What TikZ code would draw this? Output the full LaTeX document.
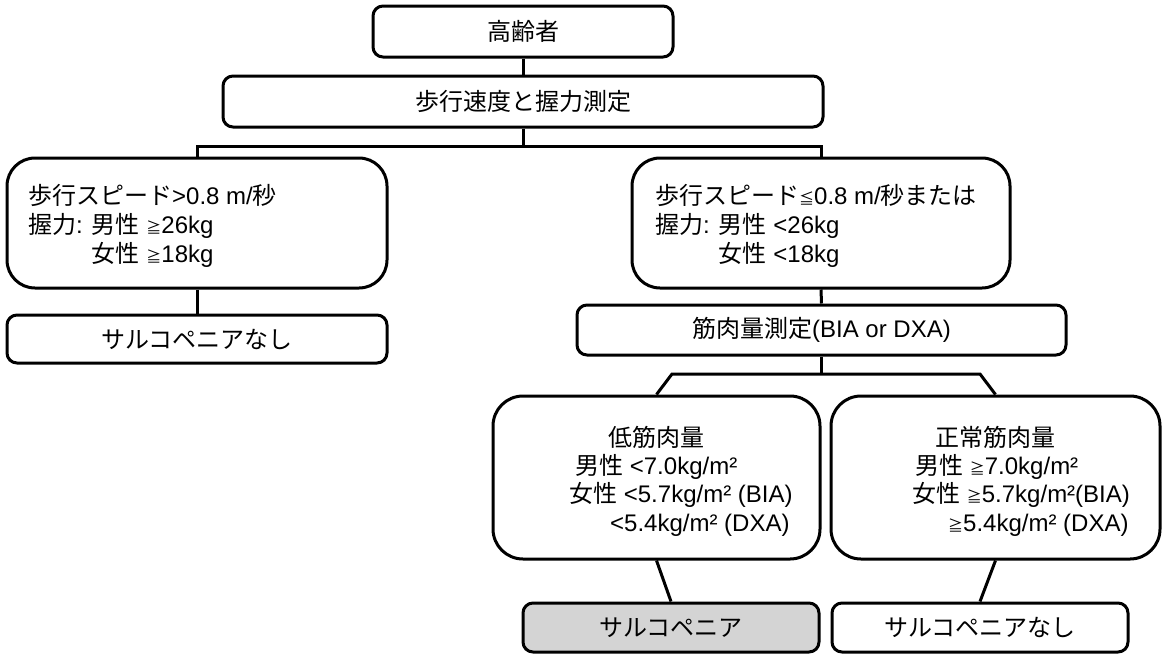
\documentclass[tikz,border=0pt]{standalone}
\usepackage{fontspec}
\setmainfont{Liberation Sans}
\newfontfamily\jpfont{Noto Sans CJK JP}
\newcommand\jt[1]{{\jpfont #1}}
\newcommand\gej{{\jpfont\fontsize{15}{15}\selectfont ≧}}
\newcommand\lej{{\jpfont\fontsize{15}{15}\selectfont ≦}}
\definecolor{sgray}{RGB}{212,212,212}
\tikzset{
  box/.style={draw, line width=3pt, inner sep=0pt, align=center, fill=white},
  sbox/.style={box, rounded corners=10pt},
  bbox/.style={box, rounded corners=28pt},
  conn/.style={line width=3pt},
  txt/.style={anchor=base west, inner sep=0pt}
}
\begin{document}
\begin{tikzpicture}[x=1pt, y=-1pt, font=\fontsize{24}{29}\selectfont]
\useasboundingbox (0,0) rectangle (1167,654);
% boxes
\node[sbox, minimum width=300pt, minimum height=51pt] (b1) at (523,31.5) {\jt{高齢者}};
\node[sbox, minimum width=600pt, minimum height=51pt] (b2) at (523,101.5) {\jt{歩行速度と握力測定}};
\node[bbox, minimum width=380pt, minimum height=130pt] (b3) at (197,223) {};
\node[sbox, minimum width=380pt, minimum height=48pt] (b4) at (197,339) {\jt{サルコペニアなし}};
\node[bbox, minimum width=378pt, minimum height=130pt] (b5) at (821,223) {};
\node[sbox, minimum width=489pt, minimum height=50pt] (b6) at (821.5,330) {\raisebox{-3pt}{\jt{筋肉量測定}(BIA or DXA)}};
\node[bbox, rounded corners=30pt, minimum width=327pt, minimum height=163pt] (b7) at (656.5,477.5) {};
\node[bbox, rounded corners=30pt, minimum width=329pt, minimum height=163pt] (b8) at (995.5,477.5) {};
\node[sbox, fill=sgray, minimum width=296pt, minimum height=49pt] (b9) at (671,627.5) {\jt{サルコペニア}};
\node[sbox, minimum width=296pt, minimum height=49pt] (b10) at (980,627.5) {\jt{サルコペニアなし}};
% texts in left box
\node[txt] (t3a) at (28,204) {\jt{歩行スピード}>0.8 m/\jt{秒}};
\node[txt] (t3b) at (28,233) {\jt{握力}: \jt{男性} \gej26kg};
\node[txt] (t3c) at (28,262) {\phantom{\jt{握力}: }\jt{女性} \gej18kg};
% texts in right box
\node[txt] (t5a) at (655,204) {\jt{歩行スピード}\lej0.8 m/\jt{秒または}};
\node[txt] (t5b) at (655,233) {\jt{握力}: \jt{男性} <26kg};
\node[txt] (t5c) at (655,262) {\phantom{\jt{握力}: }\jt{女性} <18kg};
% low muscle mass
\node[txt] (t7a) at (608,446) {\jt{低筋肉量}};
\node[txt] (t7b) at (575,474) {\jt{男性} <7.0kg/m²};
\node[txt] (t7c) at (569,502) {\jt{女性} <5.7kg/m² (BIA)};
\node[txt] (t7d) at (610,531) {<5.4kg/m² (DXA)};
% normal muscle mass
\node[txt] (t8a) at (935,446) {\jt{正常筋肉量}};
\node[txt] (t8b) at (915,474) {\jt{男性} \gej7.0kg/m²};
\node[txt] (t8c) at (912,502) {\jt{女性} \gej5.7kg/m²(BIA)};
\node[txt] (t8d) at (948,531) {\gej5.4kg/m² (DXA)};
% connectors
\coordinate (j1) at (523,146);
\coordinate (j2) at (821.5,374);
\coordinate (k1) at (672,374);
\coordinate (k2) at (980,374);
\draw[conn] (b1.south) -- (b2.north);
\draw[conn] (b2.south) -- (j1);
\draw[conn] (b3.north) |- (j1) -| (b5.north);
\draw[conn] (b3.south) -- (b4.north);
\draw[conn] (b5.south) -- (b6.north);
\draw[conn] (b6.south) -- (j2);
\draw[conn] (b7.north) -- (k1) -- (k2) -- (b8.north);
\draw[conn] (b7.south) -- (b9.north);
\draw[conn] (b8.south) -- (b10.north);
\end{tikzpicture}
\end{document}
